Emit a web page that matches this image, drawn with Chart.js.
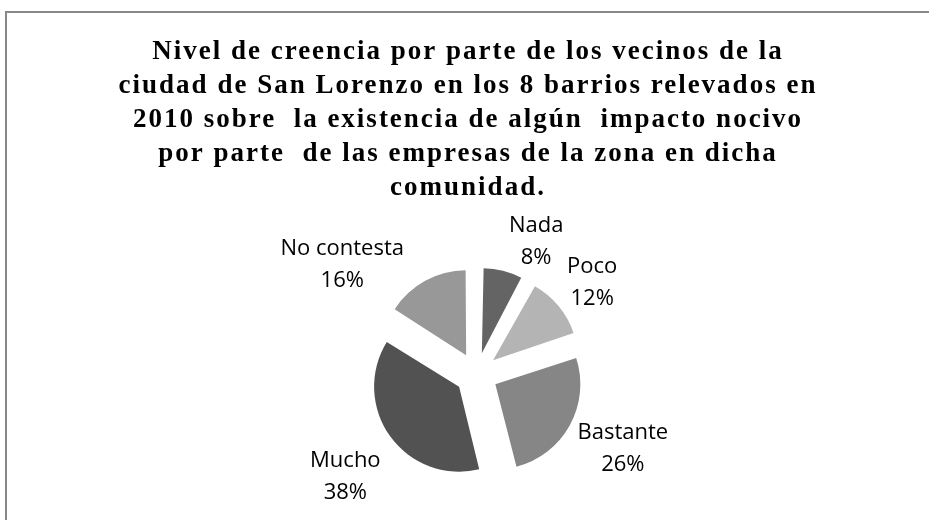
<!DOCTYPE html>
<html>
<head>
<meta charset="utf-8">
<script src="https://cdn.jsdelivr.net/npm/chart.js@4/dist/chart.umd.min.js"></script>
<style>
  html, body { margin: 0; padding: 0; background: #fff; overflow: hidden; }
  canvas { display: block; }
</style>
</head>
<body>
<canvas id="pie" width="929" height="520"></canvas>
<script>
/* ── datos ── */
const categorias = ['Nada', 'Poco', 'Bastante', 'Mucho', 'No contesta'];
const porcentajes = [8, 12, 26, 38, 16];
const tituloLineas = [
  'Nivel de creencia por parte de los vecinos de la',
  'ciudad de San Lorenzo en los 8 barrios relevados en',
  '2010 sobre  la existencia de algún  impacto nocivo',
  'por parte  de las empresas de la zona en dicha',
  'comunidad.'
];

/* ── estilo ── */
const grises = ['#646464', '#b4b4b4', '#868686', '#525252', '#989898'];
const RADIO = 85;          // radio del pastel
const DESPLAZ = 86;        // offset de Chart.js (se traslada offset/4)
// [desvío angular en grados, distancia al centro] de cada etiqueta
const posEtiquetas = [[9.7, 146], [1, 148], [-2, 164], [-1.8, 166], [-21.7, 174]];

// marco gris (solo borde superior e izquierdo visibles)
const marco = {
  id: 'marco',
  beforeDraw(chart) {
    const ctx = chart.ctx;
    ctx.save();
    ctx.strokeStyle = '#888';
    ctx.lineWidth = 2;
    ctx.beginPath();
    ctx.moveTo(6, 520);
    ctx.lineTo(6, 12);
    ctx.lineTo(929, 12);
    ctx.stroke();
    ctx.restore();
  }
};

// compensa el crecimiento de radio que Chart.js aplica a los sectores desplazados
const radioFijo = {
  id: 'radioFijo',
  beforeDatasetsDraw(chart) {
    chart.getDatasetMeta(0).data.forEach(el => {
      const circ = el.endAngle - el.startAngle;
      const fix = 1 - Math.sin(Math.min(Math.PI, circ));
      el.outerRadius = RADIO - (DESPLAZ / 4) * fix;
    });
  }
};

// título centrado de forma independiente del área del pastel
const tituloPlugin = {
  id: 'tituloPlugin',
  afterDraw(chart) {
    const ctx = chart.ctx;
    ctx.save();
    ctx.font = 'bold 27px "Liberation Serif", "Times New Roman", serif';
    ctx.letterSpacing = '2px';
    ctx.fillStyle = '#000';
    ctx.textAlign = 'center';
    ctx.textBaseline = 'alphabetic';
    tituloLineas.forEach((t, i) => ctx.fillText(t, 468, 59 + i * 34));
    ctx.restore();
  }
};

// etiquetas de categoría + porcentaje fuera de cada sector
const etiquetas = {
  id: 'etiquetas',
  afterDatasetsDraw(chart) {
    const ctx = chart.ctx;
    const total = porcentajes.reduce((a, b) => a + b, 0);
    ctx.save();
    ctx.font = '22px "Open Sans", sans-serif';
    ctx.fillStyle = '#000';
    ctx.textAlign = 'center';
    ctx.textBaseline = 'middle';
    chart.getDatasetMeta(0).data.forEach((el, i) => {
      const [nudge, dist] = posEtiquetas[i];
      const a = (el.startAngle + el.endAngle) / 2 + nudge * Math.PI / 180;
      const x = el.x + Math.cos(a) * dist;
      const y = el.y + Math.sin(a) * dist;
      const pct = Math.round(porcentajes[i] / total * 100) + '%';
      ctx.fillText(categorias[i], x, y - 15);
      ctx.fillText(pct, x, y + 17);
    });
    ctx.restore();
  }
};

new Chart(document.getElementById('pie'), {
  type: 'pie',
  data: {
    labels: categorias,
    datasets: [{
      data: porcentajes,
      backgroundColor: grises,
      borderWidth: 0,
      offset: DESPLAZ
    }]
  },
  options: {
    responsive: false,
    animation: false,
    events: [],
    radius: RADIO,
    layout: { padding: { left: 24, right: 0, top: 228, bottom: 0 } },
    plugins: {
      legend: { display: false },
      title: { display: false },
      tooltip: { enabled: false }
    }
  },
  plugins: [marco, radioFijo, etiquetas, tituloPlugin]
});
</script>
</body>
</html>
